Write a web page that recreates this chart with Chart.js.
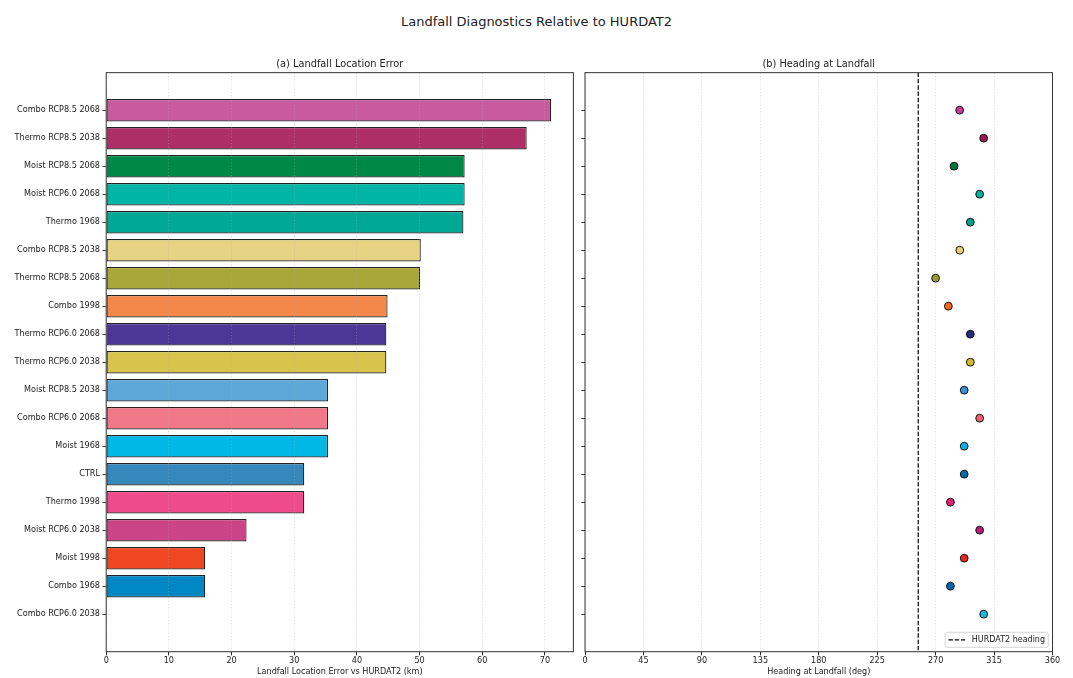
<!DOCTYPE html>
<html>
<head>
<meta charset="utf-8">
<title>Landfall Diagnostics Relative to HURDAT2</title>
<script src="https://cdn.jsdelivr.net/npm/chart.js@4.4.1/dist/chart.umd.min.js"></script>
<style>
  body { margin: 0; background: #fff; }
  #wrap { position: relative; width: 1073px; height: 678px; }
  #suptitle { position: absolute; left: 0; top: 14px; width: 1073px; text-align: center;
              font: 13px 'DejaVu Sans', sans-serif; line-height: 16px; color: #222; }
  canvas { position: absolute; top: 0; }
  #errChart { left: 0; }
  #headChart { left: 579px; }
</style>
</head>
<body>
<div id="wrap">
  <div id="suptitle">Landfall Diagnostics Relative to HURDAT2</div>
  <canvas id="errChart" width="579" height="678"></canvas>
  <canvas id="headChart" width="494" height="678"></canvas>
</div>
<script>
const experiments = [
  'Combo RCP8.5 2068', 'Thermo RCP8.5 2038', 'Moist RCP8.5 2068', 'Moist RCP6.0 2068',
  'Thermo 1968', 'Combo RCP8.5 2038', 'Thermo RCP8.5 2068', 'Combo 1998',
  'Thermo RCP6.0 2068', 'Thermo RCP6.0 2038', 'Moist RCP8.5 2038', 'Combo RCP6.0 2068',
  'Moist 1968', 'CTRL', 'Thermo 1998', 'Moist RCP6.0 2038', 'Moist 1998', 'Combo 1968',
  'Combo RCP6.0 2038'
];
// landfall location error (km)
const locationErrorKm = [71.0, 67.1, 57.2, 57.2, 57.0, 50.2, 50.1, 44.9, 44.7, 44.7,
                         35.4, 35.4, 35.4, 31.6, 31.6, 22.4, 15.8, 15.8, 0];
// heading at landfall (deg)
const headingDeg = [288.5, 307.0, 284.2, 303.9, 296.7, 288.6, 270.0, 279.8, 296.7, 296.7,
                    292.0, 303.9, 292.0, 292.0, 281.4, 303.9, 292.0, 281.4, 307.0];
const barColors = ['#c85aa0', '#ae2e68', '#008848', '#00b4a6', '#00a896', '#e6d282', '#a8a83a',
                   '#f4874a', '#4c3796', '#d8c44c', '#5da8d8', '#f07888', '#00b8e6', '#3688bc',
                   '#ef4a8a', '#cc4488', '#ef4722', '#0088c4', '#20b8e0'];
const pointColors = ['#c83c9c', '#a01850', '#007a40', '#00b0a0', '#00a090', '#e8cf70', '#9a9a30',
                     '#f06a20', '#2a2a80', '#d4bc30', '#3a90d0', '#f06070', '#10b0e8', '#0a6aa8',
                     '#e02070', '#b82078', '#e02a20', '#0068a8', '#20b8e0'];
const hurdatHeading = 256.6;
const errTicks = [0, 10, 20, 30, 40, 50, 60, 70];
const headingTicks = [0, 45, 90, 135, 180, 225, 270, 315, 360];

const ink = '#222';
const frameColor = '#333';
const yMin = -1.34;
const yMax = experiments.length - 1 + 1.34;

Chart.defaults.font.family = "'DejaVu Sans', sans-serif";
Chart.defaults.font.size = 8.1;
Chart.defaults.color = ink;

// matplotlib-like box around the plot area
const framePlugin = {
  id: 'frame',
  afterDraw(chart) {
    const {ctx, chartArea: a} = chart;
    ctx.save();
    ctx.strokeStyle = frameColor;
    ctx.lineWidth = 1;
    ctx.strokeRect(a.left, a.top, a.right - a.left, a.bottom - a.top);
    ctx.restore();
  }
};

// legend box in lower right corner of the plot
const insideLegend = {
  id: 'insideLegend',
  afterDraw(chart) {
    const ds = chart.data.datasets[1];
    const {ctx, chartArea: a} = chart;
    ctx.save();
    ctx.font = "8px 'DejaVu Sans'";
    const tw = ctx.measureText(ds.label).width;
    const w = 3.3 + 16.7 + 6.7 + tw + 3.3, h = 15;
    const x = a.right - 4.2 - w, y = a.bottom - 4.4 - h;
    ctx.fillStyle = 'rgba(255,255,255,0.85)';
    ctx.strokeStyle = '#cccccc';
    ctx.lineWidth = 0.8;
    ctx.beginPath();
    ctx.roundRect(x, y, w, h, 2);
    ctx.fill();
    ctx.stroke();
    ctx.strokeStyle = ds.borderColor;
    ctx.lineWidth = ds.borderWidth;
    ctx.setLineDash(ds.borderDash);
    ctx.beginPath();
    ctx.moveTo(x + 3.3, y + h / 2);
    ctx.lineTo(x + 20, y + h / 2);
    ctx.stroke();
    ctx.setLineDash([]);
    ctx.fillStyle = ink;
    ctx.textBaseline = 'middle';
    ctx.fillText(ds.label, x + 26.7, y + h / 2);
    ctx.restore();
  }
};

function runScale(showLabels) {
  return {
    type: 'linear', reverse: true, min: yMin, max: yMax, offset: false,
    afterBuildTicks: s => { s.ticks = experiments.map((_, i) => ({value: i})); },
    afterFit: s => { s.width = showLabels ? 106.2 : 6; },
    grid: { drawOnChartArea: false, offset: false, tickLength: 3.7, tickColor: frameColor, tickWidth: 1 },
    border: { display: false },
    ticks: { display: showLabels, padding: 2.5, color: ink, callback: v => experiments[v] }
  };
}

function valueScale(min, max, tickList, label) {
  return {
    type: 'linear', min: min, max: max,
    afterBuildTicks: s => { s.ticks = tickList.map(v => ({value: v})); },
    afterFit: s => { s.height = 26.3; },
    grid: { color: 'rgba(175,175,175,0.45)', lineWidth: 0.8, tickLength: 3.7, tickColor: frameColor,
            tickWidth: 1, tickBorderDash: [], z: 1 },
    border: { display: false, dash: [1.2, 2] },
    ticks: { padding: 0.5, color: ink, maxRotation: 0 },
    title: { display: true, text: label, color: ink, padding: {top: 0, bottom: 0.8} }
  };
}

function panelTitle(text) {
  return { display: true, text: text, fullSize: false, color: ink,
           font: {size: 9.8, weight: 'normal'}, padding: {top: 0, bottom: 2.1} };
}

new Chart(document.getElementById('errChart'), {
  type: 'bar',
  data: {
    datasets: [{
      data: experiments.map((_, i) => ({x: locationErrorKm[i], y: i})),
      backgroundColor: barColors,
      borderColor: '#222',
      borderWidth: 1.2,
      borderSkipped: false,
      barPercentage: 0.8,
      categoryPercentage: 1
    }]
  },
  options: {
    indexAxis: 'y',
    responsive: false,
    animation: false,
    layout: { autoPadding: false, padding: {left: 0, right: 5.6, top: 58.8, bottom: 0} },
    scales: {
      x: valueScale(0, 74.55, errTicks, 'Landfall Location Error vs HURDAT2 (km)'),
      y: runScale(true)
    },
    plugins: {
      legend: { display: false },
      tooltip: { enabled: false },
      title: panelTitle('(a) Landfall Location Error')
    }
  },
  plugins: [framePlugin]
});

new Chart(document.getElementById('headChart'), {
  type: 'scatter',
  data: {
    datasets: [{
      label: 'runs',
      data: experiments.map((_, i) => ({x: headingDeg[i], y: i})),
      pointBackgroundColor: pointColors,
      pointBorderColor: '#111',
      pointBorderWidth: 1,
      pointRadius: 3.9
    }, {
      label: 'HURDAT2 heading',
      data: [{x: hurdatHeading, y: yMin}, {x: hurdatHeading, y: yMax}],
      showLine: true,
      borderColor: '#000',
      borderWidth: 1.2,
      borderDash: [4.4, 1.9],
      pointRadius: 0
    }]
  },
  options: {
    responsive: false,
    animation: false,
    layout: { autoPadding: false, padding: {left: 0, right: 20.5, top: 58.8, bottom: 0} },
    scales: {
      x: valueScale(0, 360, headingTicks, 'Heading at Landfall (deg)'),
      y: runScale(false)
    },
    plugins: {
      legend: { display: false },
      tooltip: { enabled: false },
      title: panelTitle('(b) Heading at Landfall')
    }
  },
  plugins: [framePlugin, insideLegend]
});
</script>
</body>
</html>
